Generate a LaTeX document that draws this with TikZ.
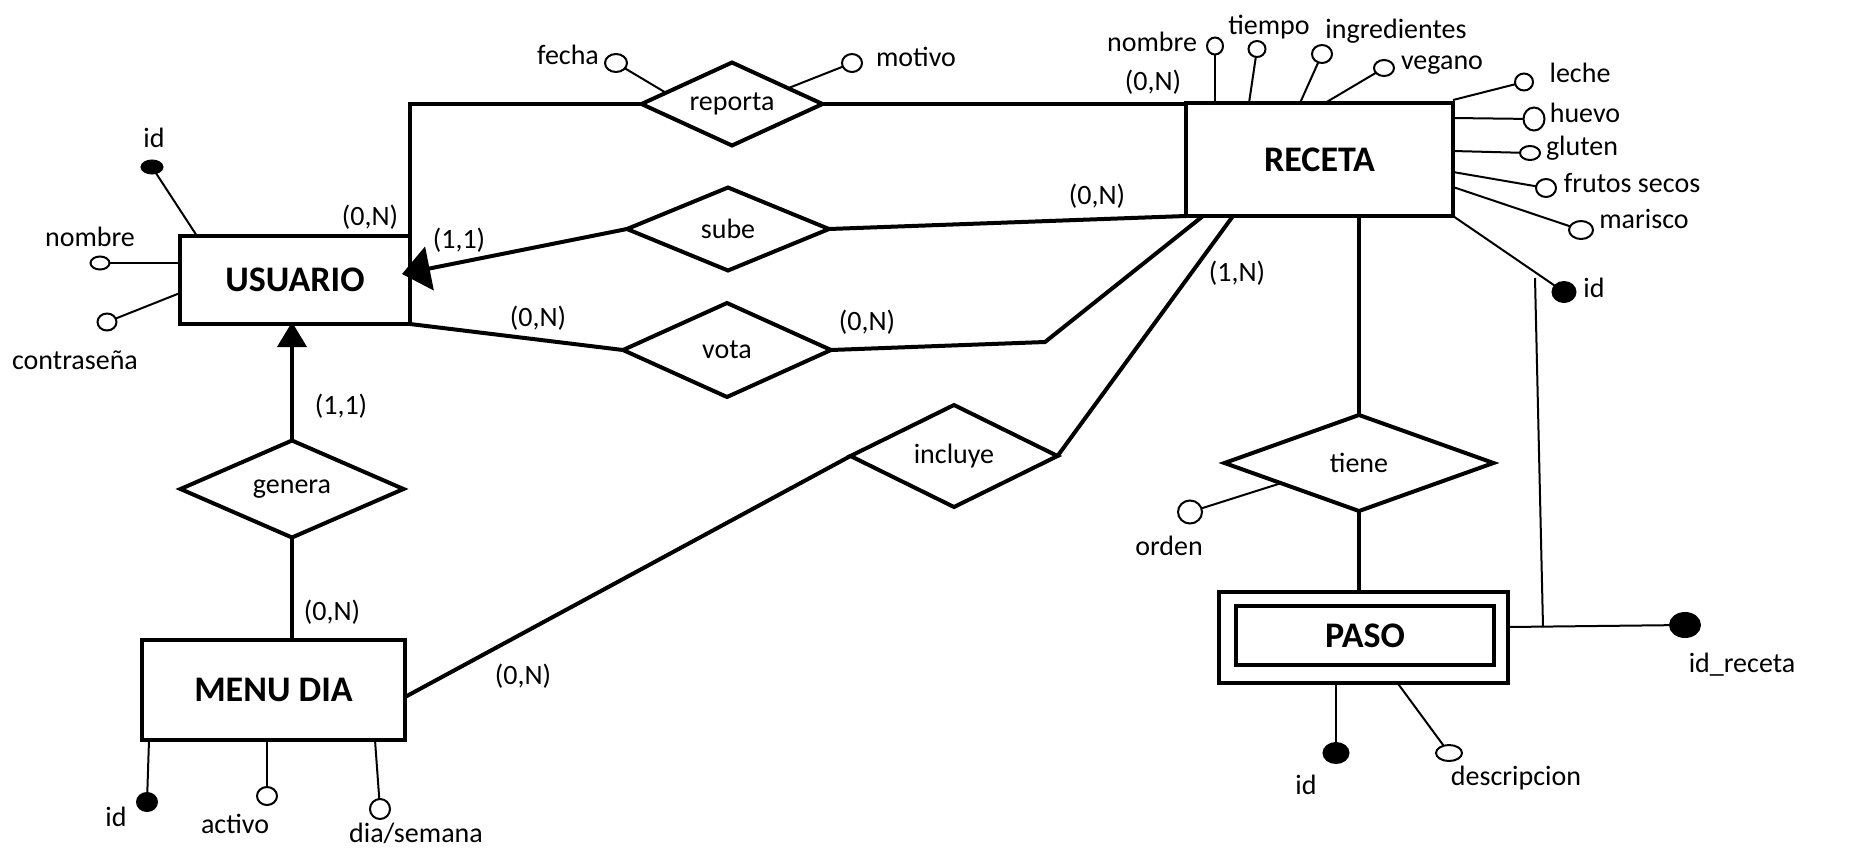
\documentclass[tikz,border=0pt]{standalone}
\usepackage{fontspec}
\setmainfont{Carlito}
\usetikzlibrary{shapes.geometric,arrows.meta,calc}
\begin{document}
\begin{tikzpicture}[x=1pt,y=-1pt,
  every node/.style={outer sep=0pt},
  entity/.style={draw,line width=4pt,rectangle,inner sep=0pt,font=\fontsize{36}{40}\selectfont\bfseries},
  rel/.style={draw,line width=4pt,diamond,inner sep=0pt,font=\fontsize{28}{32}\selectfont},
  conn/.style={line width=4pt},
  attrline/.style={line width=2pt},
  att/.style={draw,line width=2pt,ellipse,inner sep=0pt},
  key/.style={draw,line width=2pt,ellipse,inner sep=0pt,fill=black},
  lbl/.style={inner sep=0pt,font=\fontsize{28}{32}\selectfont},
  arr/.style={-{Triangle[length=28pt,width=44pt]}},
  varr/.style={-{Triangle[length=25pt,width=29pt]}}
]
\useasboundingbox (0,0) rectangle (1871,863);

% entities
\node[entity,minimum width=230,minimum height=88] (usu) at (295,280) {USUARIO};
\node[entity,minimum width=267,minimum height=113] (rec) at (1319.5,159.5) {RECETA};
\node[entity,minimum width=263,minimum height=100] (men) at (273.5,690) {MENU DIA};
\node[draw,line width=4pt,rectangle,minimum width=289,minimum height=91] (pas) at (1363.5,637.5) {};
\node[entity,minimum width=258,minimum height=59] (pasin) at (1365,635.5) {PASO};

% relationships
\node[rel,shape aspect=2.18,minimum width=181,minimum height=83] (rep) at (732,104) {reporta};
\node[rel,shape aspect=2.43,minimum width=202,minimum height=83] (sub) at (728,229) {sube};
\node[rel,shape aspect=2.21,minimum width=208,minimum height=94] (vot) at (727,350) {vota};
\node[rel,shape aspect=2.3,minimum width=223,minimum height=97] (gen) at (292,489) {genera};
\node[rel,shape aspect=2.03,minimum width=207,minimum height=102] (inc) at (954,456) {incluye};
\node[rel,shape aspect=2.8,minimum width=269,minimum height=96] (tie) at (1359,463) {tiene};

% connectors
\draw[conn] (usu.north east) |- (rep.west);
\draw[conn] (rep.east) -- (rec.west |- rep.east);
\draw[conn,arr] (sub.west) -- ([xshift=-8pt,yshift=6pt]usu.east);
\draw[conn] (sub.east) -- (rec.south west);
\draw[conn] (usu.south east) -- (vot.west);
\coordinate (k1) at (1045,342);
\draw[conn] (vot.east) -- (k1) -- ([xshift=17pt]rec.south west);
\draw[conn] ([yshift=-7pt]men.east) -- (inc.west);
\draw[conn] (inc.east) -- ([xshift=47pt]rec.south west);
\draw[conn,varr] (gen.north) -- ([yshift=2pt]gen.north |- usu.south);
\draw[conn] (gen.south) -- (gen.south |- men.north);
\draw[conn] (tie.north) -- (tie.north |- rec.south);
\draw[conn] (tie.south) -- (tie.south |- pas.north);

% USUARIO attributes
\node[key,minimum width=21,minimum height=13] (uid) at (152,167) {};
\node[att,minimum width=19,minimum height=13] (unom) at (100,263) {};
\node[att,minimum width=19,minimum height=17] (ucon) at (107,322) {};
\draw[attrline] (uid) -- ([xshift=17pt]usu.north west);
\draw[attrline] (unom) -- (usu.west |- unom);
\draw[attrline] (ucon) -- ([yshift=-13pt]usu.west);
\node[lbl] at (154,138) {id};
\node[lbl] at (90,237) {nombre};
\node[lbl] at (75,360) {contraseña};

% reporta attributes
\node[att,minimum width=22,minimum height=18] (rfec) at (616,63) {};
\node[att,minimum width=20,minimum height=18] (rmot) at (852,63) {};
\draw[attrline] (rfec) -- ($(rep.north)!0.73!(rep.west)$);
\draw[attrline] (rmot) -- ($(rep.north)!0.62!(rep.east)$);
\node[lbl] at (568,55) {fecha};
\node[lbl] at (916,57) {motivo};

% RECETA attributes
\node[att,minimum width=16,minimum height=17] (rnom) at (1215,46) {};
\node[att,minimum width=17,minimum height=16] (rtie) at (1257,49) {};
\node[att,minimum width=20,minimum height=18] (ring) at (1322,54) {};
\node[att,minimum width=20,minimum height=16] (rveg) at (1384,68) {};
\node[att,minimum width=18,minimum height=17] (rlec) at (1524,82) {};
\node[att,minimum width=21,minimum height=23] (rhue) at (1534,119) {};
\node[att,minimum width=20,minimum height=14] (rglu) at (1530,153) {};
\node[att,minimum width=20,minimum height=18] (rfru) at (1546,188) {};
\node[att,minimum width=24,minimum height=18] (rmar) at (1581,230) {};
\node[key,minimum width=23,minimum height=20] (rid) at (1564,292) {};
\draw[attrline] (rnom) -- ([xshift=29pt]rec.north west);
\draw[attrline] (rtie) -- ([xshift=63pt]rec.north west);
\draw[attrline] (ring) -- ([xshift=114pt]rec.north west);
\draw[attrline] (rveg) -- ([xshift=139pt]rec.north west);
\draw[attrline] (rlec) -- ([yshift=3pt]rec.north east);
\draw[attrline] (rhue) -- ([yshift=-15pt]rec.north east);
\draw[attrline] (rglu) -- ([yshift=-48pt]rec.north east);
\draw[attrline] (rfru) -- ([yshift=-69pt]rec.north east);
\draw[attrline] (rmar) -- ([yshift=-84pt]rec.north east);
\draw[attrline] (rid) -- (rec.south east);
\node[lbl] at (1152,42) {nombre};
\node[lbl] at (1269,27) {tiempo};
\node[lbl] at (1396,31) {ingredientes};
\node[lbl] at (1442,65) {vegano};
\node[lbl] at (1580,73) {leche};
\node[lbl] at (1585,113) {huevo};
\node[lbl] at (1582,148) {gluten};
\node[lbl] at (1632,183) {frutos secos};
\node[lbl] at (1644,219) {marisco};
\node[lbl] at (1594,288) {id};

% PASO attributes
\node[key,minimum width=30,minimum height=24] (pidr) at (1685,625) {};
\coordinate (j1) at (1543,627);
\coordinate (j2) at (1535,278);
\draw[attrline] (pas.east |- j1) -- (pidr);
\draw[attrline] (j1) -- (j2);
\node[key,minimum width=25,minimum height=20] (pid) at (1336,753) {};
\node[att,minimum width=26,minimum height=16] (pdes) at (1449,753) {};
\draw[attrline] (pid) -- (pid |- pas.south);
\draw[attrline] (pdes) -- ([xshift=34pt]pas.south);
\node[lbl] at (1742,665) {id\_receta};
\node[lbl] at (1306,785) {id};
\node[lbl] at (1516,778) {descripcion};

% tiene attribute
\node[att,minimum width=24,minimum height=23] (tord) at (1190,512) {};
\draw[attrline] (tord) -- ($(tie.south)!0.58!(tie.west)$);
\node[lbl] at (1169,546) {orden};

% MENU DIA attributes
\node[key,minimum width=20,minimum height=18] (mid) at (147,802) {};
\node[att,minimum width=20,minimum height=18] (mact) at (267,796) {};
\node[att,minimum width=20,minimum height=20] (mdia) at (380,809) {};
\draw[attrline] (mid) -- ([xshift=7pt]men.south west);
\draw[attrline] (mact) -- (mact |- men.south);
\draw[attrline] (mdia) -- ([xshift=-30pt]men.south east);
\node[lbl] at (116,817) {id};
\node[lbl] at (235,824) {activo};
\node[lbl] at (416,833) {dia/semana};

% cardinalities
\node[lbl] at (370,217) {(0,N)};
\node[lbl] at (459,240) {(1,1)};
\node[lbl] at (538,318) {(0,N)};
\node[lbl] at (867,322) {(0,N)};
\node[lbl] at (1097,196) {(0,N)};
\node[lbl] at (1153,82) {(0,N)};
\node[lbl] at (1237,273) {(1,N)};
\node[lbl] at (341,406) {(1,1)};
\node[lbl] at (332,612) {(0,N)};
\node[lbl] at (523,676) {(0,N)};
\end{tikzpicture}
\end{document}
